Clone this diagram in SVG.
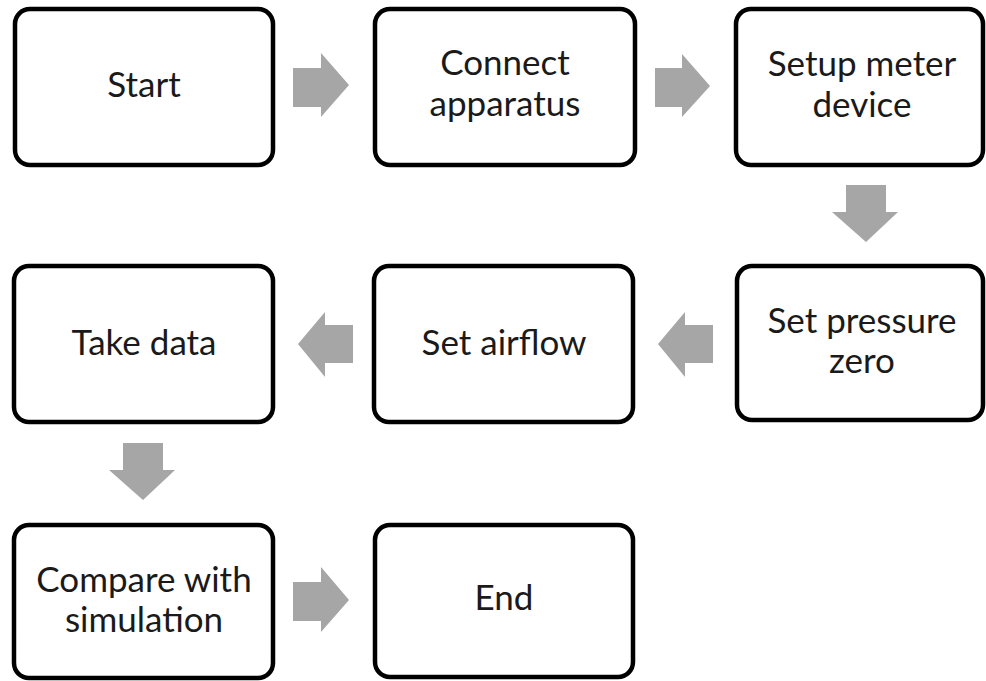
<svg xmlns="http://www.w3.org/2000/svg" width="986" height="681" viewBox="0 0 986 681">
<style>
.box{fill:#fff;stroke:#000;stroke-width:4.5}
.lbl{font-family:Lato,"Open Sans","Liberation Sans",sans-serif;font-size:35px;fill:#1a1a1a;text-anchor:middle}
.arr{fill:#a6a6a6}
</style>
<rect width="986" height="681" fill="#fff"/>
<g id="connectors">
<path class="arr" d="M293,68 H321 V53 L349,85 L321,117 V107 H293 Z"/>
<path class="arr" d="M655,68 H682 V54 L710,86 L682,117 V107 H655 Z"/>
<path class="arr" d="M846,185 H886 V212 H898 L866,242 L832,212 H846 Z"/>
<path class="arr" d="M713,325 H685 V312 L658,344 L685,377 V363 H713 Z"/>
<path class="arr" d="M353,325 H325 V312 L298,344 L325,377 V363 H353 Z"/>
<path class="arr" d="M123,443 H163 V470 H175 L143,500 L109,470 H123 Z"/>
<path class="arr" d="M293,582 H321 V567 L349,600 L321,632 V621 H293 Z"/>
</g>
<g id="n-start"><rect class="box" x="15" y="9" width="258" height="156" rx="15"/><text class="lbl" x="144" y="97">Start</text></g>
<g id="n-connect"><rect class="box" x="375" y="9" width="260" height="156" rx="15"/><text class="lbl" x="505" y="75">Connect</text><text class="lbl" x="505" y="116">apparatus</text></g>
<g id="n-setup"><rect class="box" x="736" y="9" width="247" height="156" rx="15"/><text class="lbl" x="862" y="76">Setup meter</text><text class="lbl" x="862" y="117">device</text></g>
<g id="n-pressure"><rect class="box" x="737" y="266" width="246" height="154" rx="15"/><text class="lbl" x="862" y="333">Set pressure</text><text class="lbl" x="862" y="373">zero</text></g>
<g id="n-airflow"><rect class="box" x="374" y="266" width="259" height="156" rx="15"/><text class="lbl" x="504" y="355">Set airflow</text></g>
<g id="n-take"><rect class="box" x="14" y="266" width="259" height="156" rx="15"/><text class="lbl" x="144" y="355">Take data</text></g>
<g id="n-compare"><rect class="box" x="14" y="525" width="259" height="153" rx="15"/><text class="lbl" x="144" y="592">Compare with</text><text class="lbl" x="144" y="632">simulation</text></g>
<g id="n-end"><rect class="box" x="375" y="525" width="258" height="152" rx="15"/><text class="lbl" x="504" y="610">End</text></g>
</svg>
